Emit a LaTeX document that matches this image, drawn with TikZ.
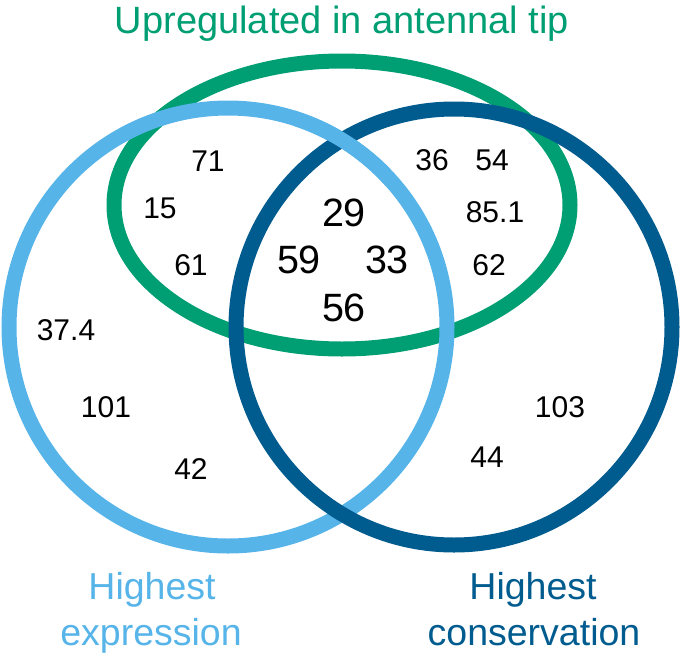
\documentclass[tikz,border=0pt]{standalone}
\usepackage{fontspec}
\setmainfont{Liberation Sans}
\definecolor{vgreen}{RGB}{0,158,115}
\definecolor{vlight}{RGB}{86,180,233}
\definecolor{vdark}{RGB}{0,91,143}
\begin{document}
\begin{tikzpicture}[x=1pt,y=-1pt,
  ring/.style={line width=15pt},
  num/.style={inner sep=0pt,font=\fontsize{30}{34}\selectfont},
  bignum/.style={inner sep=0pt,font=\fontsize{39.5}{44}\selectfont},
  lbl/.style={inner sep=0pt,align=center,font=\fontsize{37.5}{46}\selectfont}]
\useasboundingbox (0,0) rectangle (685,659);
\draw[ring,vgreen] (342,205) ellipse [x radius=228, y radius=144];
\draw[ring,vlight] (228,327) circle [radius=219];
\draw[ring,vdark] (454,327) circle [radius=218];
% light blue passes over dark blue at the upper crossing
\begin{scope}
  \clip (295,95) rectangle (390,185);
  \draw[ring,vlight] (228,327) circle [radius=219];
\end{scope}
% title and labels
\node[lbl,text=vgreen,anchor=base,font=\fontsize{38}{46}\selectfont] (title) at (342,33) {Upregulated in antennal tip};
\node[lbl,text=vlight,anchor=base] (lexp1) at (152,599) {Highest};
\node[lbl,text=vlight,anchor=base] (lexp2) at (151,645) {expression};
\node[lbl,text=vdark,anchor=base] (lcon1) at (533,599) {Highest};
\node[lbl,text=vdark,anchor=base] (lcon2) at (534,645) {conservation};
% numbers
\node[num] (n71) at (208,161) {71};
\node[num] (n15) at (160,208) {15};
\node[num] (n61) at (191,265) {61};
\node[num] (n36) at (432,160) {36};
\node[num] (n54) at (492,160) {54};
\node[num] (n851) at (495,212) {85.1};
\node[num] (n62) at (489,265) {62};
\node[bignum] (n29) at (344,213) {29};
\node[bignum] (n59) at (299,260) {59};
\node[bignum] (n33) at (387,260) {33};
\node[bignum] (n56) at (344,308) {56};
\node[num] (n374) at (66,330) {37.4};
\node[num] (n101) at (106,407) {101};
\node[num] (n42) at (191,469) {42};
\node[num] (n103) at (560,407) {103};
\node[num] (n44) at (487,457) {44};
\end{tikzpicture}
\end{document}
